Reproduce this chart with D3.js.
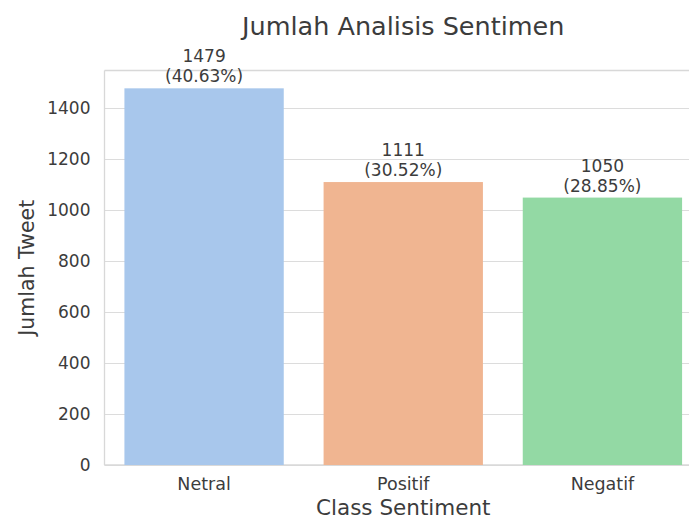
<!DOCTYPE html>
<html><head><meta charset="utf-8">
<script src="https://cdn.jsdelivr.net/npm/d3@7"></script>
<style>body{margin:0;background:#fff;} text{font-family:"DejaVu Sans",sans-serif;}</style>
</head><body>
<svg id="c" width="689" height="521"></svg>
<script>
const categories = ["Netral", "Positif", "Negatif"];
const counts = [1479, 1111, 1050];
const percents = ["40.63%", "30.52%", "28.85%"];
const colors = ["#a8c7ec", "#f0b591", "#93d9a4"];
const yTicks = [0, 200, 400, 600, 800, 1000, 1200, 1400];

(function () {
const svg = d3.select("#c");
const pL = 104.5, pR = 702, pT = 70.5, pB = 465;
const x = d3.scaleBand().domain(categories).range([pL, pR]).paddingInner(0.2).paddingOuter(0.1);
const y = d3.scaleLinear().domain([0, 1549]).range([pB, pT]);
const txt = "#3c3c3c";

// grid
svg.append("g").selectAll("line").data(yTicks).join("line")
  .attr("x1", pL).attr("x2", pR)
  .attr("y1", d => Math.round(y(d)) + 0.5).attr("y2", d => Math.round(y(d)) + 0.5)
  .attr("stroke", "#dcdcdc").attr("stroke-width", 1.2);

// spines
svg.append("line").attr("x1", pL).attr("x2", pL).attr("y1", pT).attr("y2", pB).attr("stroke", "#d8d8d8").attr("stroke-width", 1.3);
svg.append("line").attr("x1", pL).attr("x2", pR).attr("y1", pT).attr("y2", pT).attr("stroke", "#d8d8d8").attr("stroke-width", 1.3);
svg.append("line").attr("x1", pL).attr("x2", pR).attr("y1", pB).attr("y2", pB).attr("stroke", "#d8d8d8").attr("stroke-width", 1.3);

// bars
svg.append("g").selectAll("rect").data(categories).join("rect")
  .attr("x", d => x(d)).attr("width", x.bandwidth())
  .attr("y", (d, i) => y(counts[i])).attr("height", (d, i) => y(0) - y(counts[i]))
  .attr("fill", (d, i) => colors[i]);

// bar labels
const lab = svg.append("g").selectAll("text").data(categories).join("text")
  .attr("text-anchor", "middle").attr("fill", txt).attr("font-size", 17)
  .attr("x", d => x(d) + x.bandwidth() / 2)
  .attr("y", (d, i) => y(counts[i]) - 26);
lab.append("tspan").text((d, i) => counts[i]);
lab.append("tspan").attr("x", d => x(d) + x.bandwidth() / 2).attr("dy", 20).text((d, i) => "(" + percents[i] + ")");

// y axis
const ya = svg.append("g").attr("transform", `translate(${pL},0)`)
  .call(d3.axisLeft(y).tickValues(yTicks).tickSize(0).tickPadding(14).tickFormat(d3.format("d")));
ya.select(".domain").remove();
ya.selectAll("text").attr("font-size", 17).attr("fill", txt).attr("font-family", "DejaVu Sans");

// x axis
const xa = svg.append("g").attr("transform", `translate(0,${pB})`)
  .call(d3.axisBottom(x).tickSize(0).tickPadding(13));
xa.select(".domain").remove();
xa.selectAll("text").attr("font-size", 17.5).attr("fill", txt).attr("font-family", "DejaVu Sans");

// titles
svg.append("text").attr("x", (pL + pR) / 2).attr("y", 35).attr("text-anchor", "middle")
  .attr("font-size", 25.5).attr("fill", txt).text("Jumlah Analisis Sentimen");
svg.append("text").attr("x", (pL + pR) / 2).attr("y", 515).attr("text-anchor", "middle")
  .attr("font-size", 21.5).attr("fill", txt).text("Class Sentiment");
svg.append("text").attr("transform", `translate(34,${(pT + pB) / 2}) rotate(-90)`).attr("text-anchor", "middle")
  .attr("font-size", 20.5).attr("fill", txt).text("Jumlah Tweet");
})();
</script>
</body></html>
